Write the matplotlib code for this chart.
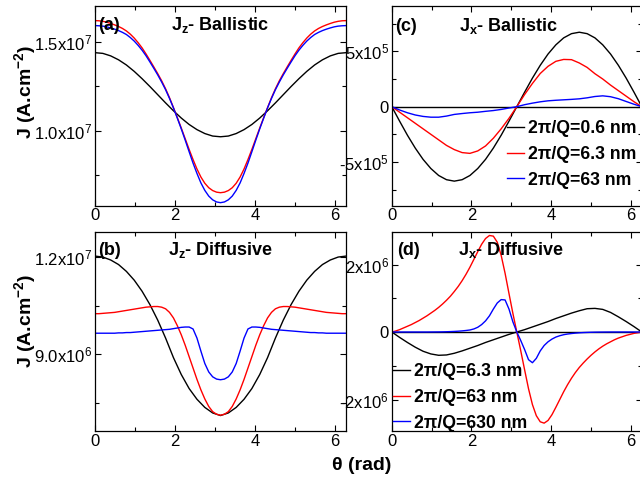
import numpy as np
import matplotlib
matplotlib.use("Agg")
import matplotlib.pyplot as plt

plt.rcParams['font.family'] = ['Liberation Sans', 'DejaVu Sans']
plt.rcParams['mathtext.fontset'] = 'custom'
plt.rcParams['mathtext.rm'] = 'Liberation Sans'
plt.rcParams['mathtext.it'] = 'Liberation Sans:italic'
plt.rcParams['mathtext.bf'] = 'Liberation Sans:bold'

# theta grids (rad), 33 and 65 samples over one period
theta = np.linspace(0, 2 * np.pi, 33)
theta_fine = np.linspace(0, 2 * np.pi, 65)

# (a) Jz ballistic, units of 1e7 A/cm^2
jz_bal_06 = [1.438, 1.434, 1.420, 1.398, 1.369, 1.333, 1.292, 1.248, 1.202, 1.156, 1.112,
             1.071, 1.035, 1.006, 0.984, 0.970, 0.966, 0.970, 0.984, 1.006, 1.035, 1.071,
             1.112, 1.156, 1.202, 1.248, 1.292, 1.333, 1.369, 1.398, 1.420, 1.434, 1.438]
jz_bal_63 = [1.618, 1.617, 1.614, 1.609, 1.602, 1.594, 1.585, 1.574, 1.560, 1.542, 1.520,
             1.494, 1.465, 1.431, 1.395, 1.358, 1.320, 1.280, 1.235, 1.185, 1.130, 1.073,
             1.015, 0.955, 0.895, 0.838, 0.785, 0.740, 0.705, 0.680, 0.664, 0.655, 0.652,
             0.655, 0.664, 0.680, 0.705, 0.740, 0.785, 0.838, 0.895, 0.955, 1.015, 1.073,
             1.130, 1.185, 1.235, 1.280, 1.320, 1.358, 1.395, 1.431, 1.465, 1.494, 1.520,
             1.542, 1.560, 1.574, 1.585, 1.594, 1.602, 1.609, 1.614, 1.617, 1.618]
jz_bal_630 = [1.590, 1.589, 1.587, 1.583, 1.577, 1.570, 1.562, 1.552, 1.540, 1.523, 1.503,
              1.479, 1.452, 1.421, 1.386, 1.350, 1.313, 1.273, 1.230, 1.181, 1.128, 1.070,
              1.010, 0.947, 0.882, 0.818, 0.760, 0.707, 0.665, 0.633, 0.612, 0.600, 0.596,
              0.600, 0.612, 0.633, 0.665, 0.707, 0.760, 0.818, 0.882, 0.947, 1.010, 1.070,
              1.128, 1.181, 1.230, 1.273, 1.313, 1.350, 1.386, 1.421, 1.452, 1.479, 1.503,
              1.523, 1.540, 1.552, 1.562, 1.570, 1.577, 1.583, 1.587, 1.589, 1.590]

# (b) Jz diffusive, units of 1e7 A/cm^2
jz_dif_63 = [1.202, 1.199, 1.190, 1.176, 1.155, 1.128, 1.094, 1.053, 1.005, 0.950, 0.890,
             0.838, 0.795, 0.762, 0.737, 0.720, 0.712, 0.720, 0.737, 0.762, 0.795, 0.838,
             0.890, 0.950, 1.005, 1.053, 1.094, 1.128, 1.155, 1.176, 1.190, 1.199, 1.202]
jz_dif_630 = [1.025, 1.025, 1.026, 1.027, 1.028, 1.029, 1.031, 1.033, 1.035, 1.037, 1.039,
              1.041, 1.043, 1.045, 1.046, 1.047, 1.047, 1.045, 1.040, 1.029, 1.012, 0.988,
              0.960, 0.928, 0.893, 0.858, 0.823, 0.791, 0.763, 0.740, 0.724, 0.716, 0.713,
              0.716, 0.724, 0.740, 0.763, 0.791, 0.823, 0.858, 0.893, 0.928, 0.960, 0.988,
              1.012, 1.029, 1.040, 1.045, 1.047, 1.047, 1.046, 1.045, 1.043, 1.041, 1.039,
              1.037, 1.035, 1.033, 1.031, 1.029, 1.028, 1.027, 1.026, 1.025, 1.025]
jz_dif_6300 = [0.965, 0.965, 0.965, 0.965, 0.965, 0.965, 0.966, 0.966, 0.967, 0.967, 0.968,
               0.969, 0.970, 0.971, 0.972, 0.973, 0.974, 0.975, 0.976, 0.977, 0.979, 0.981,
               0.983, 0.984, 0.984, 0.978, 0.950, 0.910, 0.872, 0.846, 0.831, 0.824, 0.822,
               0.824, 0.831, 0.846, 0.872, 0.910, 0.950, 0.978, 0.984, 0.984, 0.983, 0.981,
               0.979, 0.977, 0.976, 0.975, 0.974, 0.973, 0.972, 0.971, 0.970, 0.969, 0.968,
               0.967, 0.967, 0.966, 0.966, 0.965, 0.965, 0.965, 0.965, 0.965, 0.965]

# (c) Jx ballistic, units of 1e5 A/cm^2
jx_bal_06 = [0, -1.31, -2.58, -3.74, -4.76, -5.59, -6.22, -6.60, -6.73, -6.60, -6.22,
             -5.59, -4.76, -3.74, -2.58, -1.31, 0, 1.31, 2.58, 3.74, 4.76, 5.59,
             6.22, 6.60, 6.73, 6.60, 6.22, 5.59, 4.76, 3.74, 2.58, 1.31, 0]
jx_bal_63 = [0, -0.50, -1.00, -1.50, -2.00, -2.50, -3.00, -3.50, -3.88, -4.15, -4.22,
             -4.00, -3.55, -2.85, -2.00, -1.05, 0, 1.10, 2.10, 3.00, 3.65, 4.10,
             4.27, 4.25, 3.95, 3.55, 2.98, 2.50, 1.95, 1.45, 0.95, 0.45, 0]
jx_bal_630 = [0, -0.30, -0.55, -0.75, -0.88, -0.95, -0.95, -0.85, -0.70, -0.62, -0.55,
              -0.50, -0.42, -0.35, -0.25, -0.12, 0, 0.18, 0.32, 0.44, 0.53, 0.58,
              0.62, 0.66, 0.71, 0.80, 0.92, 0.98, 0.90, 0.72, 0.47, 0.22, 0]

# (d) Jx diffusive, units of 1e6 A/cm^2
jx_dif_63 = [0, -0.16, -0.31, -0.45, -0.57, -0.65, -0.69, -0.68, -0.63, -0.56, -0.48,
             -0.40, -0.31, -0.23, -0.15, -0.07, 0, 0.07, 0.15, 0.23, 0.31, 0.40,
             0.48, 0.56, 0.63, 0.69, 0.70, 0.67, 0.58, 0.45, 0.31, 0.16, 0]
jx_dif_630 = [0, 0.03, 0.07, 0.12, 0.17, 0.22, 0.28, 0.34, 0.41, 0.48, 0.56, 0.64, 0.73,
              0.83, 0.94, 1.06, 1.20, 1.35, 1.52, 1.71, 1.92, 2.15, 2.38, 2.60, 2.77,
              2.86, 2.84, 2.66, 2.27, 1.74, 1.14, 0.55, 0, -0.55, -1.12, -1.68, -2.15,
              -2.48, -2.66, -2.70, -2.62, -2.45, -2.23, -2.00, -1.77, -1.56, -1.37, -1.20,
              -1.05, -0.92, -0.80, -0.69, -0.59, -0.50, -0.42, -0.35, -0.29, -0.23, -0.18,
              -0.14, -0.10, -0.07, -0.04, -0.02, 0]
jx_dif_6300 = [0, 0, 0, 0, 0, 0, 0, 0, 0, 0, 0.001, 0.002, 0.003, 0.005, 0.008, 0.012,
               0.017, 0.024, 0.033, 0.045, 0.06, 0.09, 0.14, 0.22, 0.33, 0.48, 0.68, 0.86,
               0.96, 0.95, 0.68, 0.30, 0, -0.25, -0.52, -0.82, -0.91, -0.78, -0.56, -0.40,
               -0.29, -0.21, -0.15, -0.11, -0.08, -0.06, -0.045, -0.033, -0.024, -0.017,
               -0.012, -0.008, -0.005, -0.003, -0.002, -0.001, 0, 0, 0, 0, 0, 0, 0, 0, 0]

labels_bal = ['2\u03c0/Q=0.6 nm', '2\u03c0/Q=6.3 nm', '2\u03c0/Q=63 nm']
labels_dif = ['2\u03c0/Q=6.3 nm', '2\u03c0/Q=63 nm', '2\u03c0/Q=630 nm']

W, H = 640, 479
fig = plt.figure(figsize=(6.4, 4.79), dpi=100)


def px_axes(x0, y0, x1, y1):
    return fig.add_axes([x0 / W, 1 - y1 / H, (x1 - x0) / W, (y1 - y0) / H])


def px_text(x, y, s, **kw):
    fig.text(x / W, 1 - y / H, s, **kw)


def style(ax, ylim, yticks, ylabels, yminor):
    ax.set_xlim(0, 2 * np.pi)
    ax.set_xticks([0, 2, 4, 6])
    ax.set_xticks([1, 3, 5], minor=True)
    ax.set_ylim(*ylim)
    ax.set_yticks(yticks)
    ax.set_yticklabels(ylabels)
    ax.set_yticks(yminor, minor=True)
    ax.tick_params(which='both', direction='in', top=True, right=True,
                   labelsize=12, pad=2, width=0.8)
    ax.tick_params(which='major', length=4)
    ax.tick_params(which='minor', length=3)
    for sp in ax.spines.values():
        sp.set_linewidth(0.9)


ax_a = px_axes(95, 6, 346, 205.7)
ax_c = px_axes(391.8, 6, 641.8, 205.7)
ax_b = px_axes(95, 232, 346, 431)
ax_d = px_axes(391.8, 232, 641.8, 431)

ax_a.plot(theta, np.array(jz_bal_06) * 1e7, color='black', lw=1.0)
ax_a.plot(theta_fine, np.array(jz_bal_63) * 1e7, color='red', lw=1.0)
ax_a.plot(theta_fine, np.array(jz_bal_630) * 1e7, color='blue', lw=1.0)
style(ax_a, (0.579e7, 1.70e7), [1.0e7, 1.5e7],
      ['1.0x10$^{7}$', '1.5x10$^{7}$'], [0.75e7, 1.25e7])

ax_b.plot(theta, np.array(jz_dif_63) * 1e7, color='black', lw=1.0)
ax_b.plot(theta_fine, np.array(jz_dif_630) * 1e7, color='red', lw=1.0)
ax_b.plot(theta_fine, np.array(jz_dif_6300) * 1e7, color='blue', lw=1.0)
style(ax_b, (0.6645e7, 1.276e7), [0.9e7, 1.2e7],
      ['9.0x10$^{6}$', '1.2x10$^{7}$'], [0.75e7, 1.05e7])

ax_c.axhline(0, color='black', lw=1.0)
ax_c.plot(theta, np.array(jx_bal_06) * 1e5, color='black', lw=1.0, label=labels_bal[0])
ax_c.plot(theta, np.array(jx_bal_63) * 1e5, color='red', lw=1.0, label=labels_bal[1])
ax_c.plot(theta, np.array(jx_bal_630) * 1e5, color='blue', lw=1.0, label=labels_bal[2])
style(ax_c, (-8.95e5, 9.1e5), [-5e5, 0, 5e5],
      ['-5x10$^{5}$', '0', '5x10$^{5}$'], [-7.5e5, -2.5e5, 2.5e5, 7.5e5])

ax_d.axhline(0, color='black', lw=1.0)
ax_d.plot(theta, np.array(jx_dif_63) * 1e6, color='black', lw=1.0, label=labels_dif[0])
ax_d.plot(theta_fine, np.array(jx_dif_630) * 1e6, color='red', lw=1.0, label=labels_dif[1])
ax_d.plot(theta_fine, np.array(jx_dif_6300) * 1e6, color='blue', lw=1.0, label=labels_dif[2])
style(ax_d, (-2.933e6, 2.963e6), [-2e6, 0, 2e6],
      ['-2x10$^{6}$', '0', '2x10$^{6}$'], [-1e6, 1e6])

legend_kw = dict(frameon=False, handlelength=0.95, handletextpad=0.25,
                 labelspacing=0.5, borderpad=0, borderaxespad=0,
                 prop={'weight': 'bold', 'size': 12.7}, bbox_transform=fig.transFigure,
                 loc='upper left')
ax_c.legend(bbox_to_anchor=(507 / W, 1 - 120 / H), **legend_kw)
ax_d.legend(bbox_to_anchor=(393 / W, 1 - 363 / H), **legend_kw)

bold = dict(fontsize=13, fontweight='bold', va='baseline')
px_text(98, 30, '(a)', ha='left', **bold)
px_text(220, 30, 'J$_{\\mathbf{z}}$- Ballistic', ha='center', **bold)
px_text(98, 255, '(b)', ha='left', **bold)
px_text(221, 255, 'J$_{\\mathbf{z}}$- Diffusive', ha='center', **bold)
px_text(395, 31, '(c)', ha='left', **bold)
px_text(509, 31, 'J$_{\\mathbf{x}}$- Ballistic', ha='center', **bold)
px_text(397, 255, '(d)', ha='left', **bold)
px_text(511, 255, 'J$_{\\mathbf{x}}$- Diffusive', ha='center', **bold)

ylab = 'J (A.cm$^{\\mathbf{-2}}$)'
px_text(25, 92, ylab, rotation=90, ha='center', va='center', fontsize=14, fontweight='bold')
px_text(25, 321, ylab, rotation=90, ha='center', va='center', fontsize=14, fontweight='bold')
px_text(362, 466, '\u03b8 (rad)', ha='center', va='center', fontsize=14, fontweight='bold')

fig.savefig('out.png', dpi=100)
